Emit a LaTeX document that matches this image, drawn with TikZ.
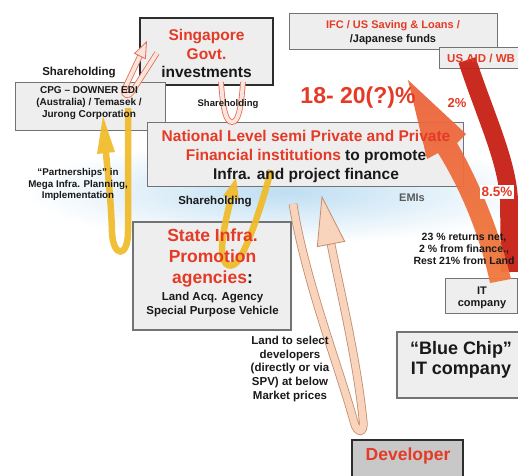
\documentclass[tikz,border=0pt]{standalone}
\usepackage{fontspec}
\setmainfont{Liberation Sans}
\definecolor{ored}{RGB}{228,58,38}
\definecolor{dred}{RGB}{200,32,22}
\definecolor{oraA}{RGB}{236,100,60}
\definecolor{oraB}{RGB}{214,50,30}
\definecolor{oraC}{RGB}{240,120,60}
\definecolor{boxfill}{RGB}{238,238,238}
\definecolor{boxline}{RGB}{115,115,115}
\definecolor{hline}{RGB}{45,45,45}
\definecolor{devfill}{RGB}{200,200,200}
\definecolor{pinkline}{RGB}{222,110,90}
\definecolor{pinkfill}{RGB}{252,228,218}
\definecolor{peachline}{RGB}{196,140,110}
\definecolor{peachfill}{RGB}{248,212,188}
\definecolor{yelc}{RGB}{240,186,40}
\definecolor{bluec}{RGB}{190,222,242}
\definecolor{emic}{RGB}{90,90,90}
\definecolor{ink}{RGB}{25,25,25}
\newcommand\myfs[2]{\fontsize{#1}{#2}\selectfont}
\begin{document}
\begin{tikzpicture}[x=1pt,y=-1pt,
  box/.style={draw=boxline, line width=1pt, fill=boxfill, inner sep=0pt},
  hbox/.style={draw=hline, line width=2pt, fill=boxfill, inner sep=0pt},
  txt/.style={inner sep=0pt, align=center, text=ink},
  pinkrib/.style={draw=pinkline, line width=0.8pt, double=pinkfill, double distance=4pt},
  peachrib/.style={draw=peachline, line width=0.8pt, double=peachfill, double distance=7pt},
  yel/.style={draw=yelc, line width=6.5pt, opacity=0.92},
]
\useasboundingbox (0,0) rectangle (518,475);
\fill[white] (0,0) rectangle (518,475);
% blue haze
\shade[inner color=bluec, outer color=white] (285,192) ellipse (260 and 52);
% boxes
\node[box, minimum width=208pt, minimum height=36pt] (ifc) at (393,31) {};
\node[box, minimum width=91pt, minimum height=21pt] (usaid) at (484.5,57.5) {};
\node[hbox, minimum width=133pt, minimum height=67pt] (sing) at (206.5,51.5) {};
\node[box, minimum width=150pt, minimum height=48pt] (cpg) at (90,106) {};
\node[box, minimum width=316pt, minimum height=64pt] (nat) at (305,154) {};
\node[box, line width=1.4pt, minimum width=158pt, minimum height=108pt] (state) at (212,276) {};
\node[box, minimum width=72pt, minimum height=35pt] (it) at (481,295.5) {};
\node[box, line width=1.4pt, minimum width=133pt, minimum height=66pt] (blue) at (463.5,365) {};
\node[hbox, fill=devfill, minimum width=111pt, minimum height=42pt] (dev) at (407.5,461) {};
% arrows
% red dark band US AID -> IT
\draw[line width=18pt, draw=dred, opacity=0.95] (467,60) .. controls (485,115) and (507,160) .. (509,200) -- (510,272);
% orange return band IT -> Private institutions
\shade[top color=oraA, middle color=oraB, bottom color=oraC, opacity=0.95]
  (490,283) .. controls (480,236) and (461,190) .. (438,153) -- (427,159) -- (408,80)
  -- (466,134) -- (457,143) .. controls (480,183) and (500,233) .. (511,279) -- cycle;
% yellow left loop (CPG <-> state)
\draw[yel] (128,108) -- (128,232) .. controls (128,258) and (113,258) .. (112,232)
  .. controls (111,200) and (108,175) .. (106,153);
\fill[yelc, opacity=0.92] (103,116) -- (97,154) -- (115,152) -- cycle;
% yellow middle loop (state -> national)
\draw[yel] (271,170) .. controls (262,205) and (250,240) .. (240,258)
  .. controls (233,270) and (222,268) .. (222,250) .. controls (222,235) and (227,215) .. (231,198);
\fill[yelc, opacity=0.92] (236,178) -- (223,196) -- (239,200) -- cycle;
% pink loop CPG -> Singapore
\draw[pinkrib] (157,53) -- (132,92) .. controls (129,97) and (123,96) .. (124,90) -- (140,56);
\filldraw[draw=pinkline, fill=pinkfill, line width=0.8pt] (146.5,42) -- (134.6,53.4) -- (145.4,58.6) -- cycle;
% pink U Singapore <-> National
\draw[pinkrib] (221,82) .. controls (223,110) and (226,122) .. (232,122) .. controls (238,122) and (241,110) .. (243,82);
% peach loop Developer <-> National
\draw[peachrib] (293,204) .. controls (305,280) and (340,370) .. (354,422)
  .. controls (357,434) and (365,434) .. (363,420) .. controls (357,360) and (340,290) .. (331,244);
\filldraw[draw=peachline, fill=peachfill, line width=0.8pt] (322,197) -- (317.3,246.6) -- (344.7,241.4) -- cycle;
% box texts
\node[txt, text=ored, font=\bfseries\myfs{15.5}{18.5}] (singt) at (206.5,53.5) {Singapore\\Govt.\\\textcolor{ink}{investments}};
\node[txt, font=\bfseries\myfs{10}{12}] (cpgt) at (89,103.5) {CPG – DOWNER EDI\\(Australia) / Temasek /\\Jurong Corporation};
\node[txt, font=\bfseries\myfs{11}{13.5}] (ifct) at (393,32.5) {\textcolor{ored}{IFC / US Saving \& Loans /}\\/Japanese funds};
\node[txt, anchor=west, text=ored, font=\bfseries\myfs{11.5}{13}] (usaidt) at (447,58) {US AID / WB};
\node[txt, font=\bfseries\myfs{15.5}{19}] (natt) at (306,156) {\textcolor{ored}{National Level semi Private and Private}\\\textcolor{ored}{Financial institutions} to promote\\Infra. and project finance};
\node[txt, text=ored, font=\bfseries\myfs{17.5}{21}] (statet) at (212.5,258.5) {State Infra.\\Promotion\\agencies\textcolor{ink}{:}};
\node[txt, font=\bfseries\myfs{11.5}{14}] (states) at (212.5,304.5) {Land Acq. Agency\\Special Purpose Vehicle};
\node[txt, font=\bfseries\myfs{11}{12.5}] (itt) at (482,298) {IT\\company};
\node[txt, font=\bfseries\myfs{18}{20}] (bluet) at (461,359.5) {“Blue Chip”\\IT company};
\node[txt, text=ored, font=\bfseries\myfs{17.5}{20}] (devt) at (408,455.5) {Developer};
% free labels
\node[txt, font=\bfseries\myfs{11.5}{13}] (sh1) at (79,73) {Shareholding};
\node[txt, font=\bfseries\myfs{9.5}{11}] (sh2) at (228,104) {Shareholding};
\node[txt, font=\bfseries\myfs{11.5}{13}] (sh3) at (215,202) {Shareholding};
\node[txt, font=\bfseries\myfs{9.8}{11.5}] (part) at (78,184.5) {“Partnerships” in\\Mega Infra. Planning,\\Implementation};
\node[txt, text=ored, font=\bfseries\myfs{23}{26}] (pct) at (358,97.5) {18- 20(?)\%};
\node[txt, text=ored, fill=white, inner sep=2pt, font=\bfseries\myfs{13}{15}] (two) at (457,103.5) {2\%};
\node[txt, text=ored, fill=white, inner sep=2pt, font=\bfseries\myfs{13.5}{15}] (eight) at (497,192) {8.5\%};
\node[txt, text=emic, font=\bfseries\myfs{11}{13}] (emi) at (412,197.5) {EMIs};
\node[txt, font=\bfseries\myfs{10.5}{12}] (ret) at (464,248.5) {23 \% returns net,\\2 \% from finance.,\\Rest 21\% from Land};
\node[txt, font=\bfseries\myfs{11.5}{13.7}] (land) at (290,369) {Land to select\\developers\\(directly or via\\SPV) at below\\Market prices};
\end{tikzpicture}
\end{document}
